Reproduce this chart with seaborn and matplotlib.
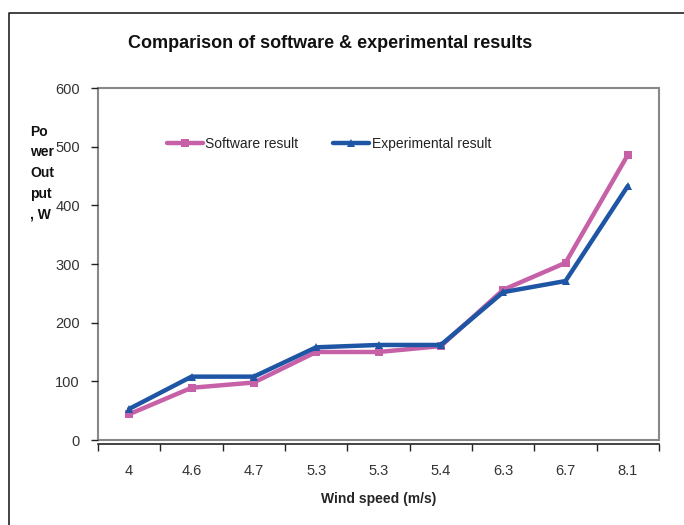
import matplotlib

matplotlib.use("Agg")
import matplotlib.pyplot as plt
from matplotlib.lines import Line2D
from matplotlib.patches import Rectangle
import numpy as np
import seaborn as sns

wind_speed = ["4", "4.6", "4.7", "5.3", "5.3", "5.4", "6.3", "6.7", "8.1"]
software = [44, 89, 98, 150, 150, 160, 256, 302, 486]
experimental = [53, 108, 108, 158, 162, 162, 252, 271, 433]

sns.set_theme(style="white")
plt.rcParams["font.family"] = ["Liberation Sans", "DejaVu Sans"]

W, H = 684, 525
fig = plt.figure(figsize=(W / 100, H / 100), dpi=100)
ax = fig.add_axes([98 / W, (H - 440) / H, 561 / W, 352 / H])

pos = np.arange(len(wind_speed))
sns.lineplot(x=pos, y=software, ax=ax, color="#C661A8", lw=3.2, marker="s",
             markersize=6, markeredgewidth=0, sort=False, label="Software result")
sns.lineplot(x=pos, y=experimental, ax=ax, color="#1E55A5", lw=3.2, marker="^",
             markersize=6, markeredgewidth=0, sort=False, label="Experimental result")

ax.set_xlim(-0.5, len(wind_speed) - 0.5)
ax.set_ylim(0, 600)
ax.set_yticks(range(0, 601, 100))
ax.set_xticks(pos)
ax.set_xticklabels(wind_speed)
ax.set_xticks(np.arange(-0.5, len(wind_speed)), minor=True)
ax.tick_params(axis="x", which="major", length=0, pad=14, labelsize=10.5, labelcolor="#333333")
ax.tick_params(axis="x", which="minor", length=5, width=1, color="#222222", direction="out", bottom=True)
ax.tick_params(axis="y", length=5, width=1, color="#222222", direction="out", left=True,
               labelsize=10.5, labelcolor="#333333", pad=8)

for s in ("top", "right", "left"):
    ax.spines[s].set_visible(False)
ax.spines["bottom"].set_position(("outward", 3))
ax.spines["bottom"].set_color("#222222")
ax.spines["bottom"].set_linewidth(1.2)
ax.add_patch(Rectangle((0, 0), 1, 1, transform=ax.transAxes, fill=False,
                       edgecolor="#888888", lw=1.5, clip_on=False, zorder=0.5))

ax.set_xlabel("Wind speed (m/s)", fontsize=10, fontweight="bold", labelpad=10)
ax.set_ylabel("")

leg = ax.legend(loc="center left", bbox_to_anchor=(0.10, 0.84), ncol=2, frameon=False,
                fontsize=10, handlelength=2.6, columnspacing=2.5, handletextpad=0.2)
for t in leg.get_texts():
    t.set_color("#222222")

fig.text(330 / W, 1 - 43 / H, "Comparison of software & experimental results",
         ha="center", va="center", fontsize=13, fontweight="bold", color="#111111")
fig.text(30 / W, 1 - 173 / H, "Po\nwer\nOut\nput\n, W", ha="left", va="center",
         fontsize=10, fontweight="bold", linespacing=1.6, color="#111111")

# outer chart frame
fig.add_artist(Line2D([9 / W, 9 / W, 1], [0, 1 - 13 / H, 1 - 13 / H],
                      transform=fig.transFigure, color="#222222", lw=1.2))

fig.savefig("out.png", dpi=100)
